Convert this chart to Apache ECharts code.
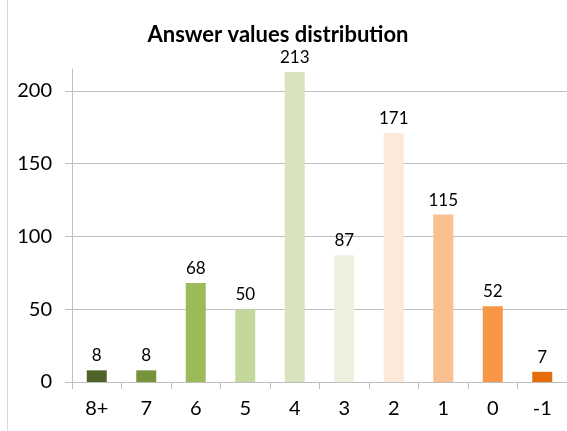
<!DOCTYPE html>
<html>
<head>
<meta charset="utf-8">
<script src="https://cdn.jsdelivr.net/npm/echarts@6/dist/echarts.min.js"></script>
<style>
  html, body { margin: 0; padding: 0; background: #fff; }
  #chart { width: 567px; height: 431px; position: relative; }
  .edge { position: absolute; left: 7px; top: 0; width: 1px; height: 431px; background: #d9d9d9; }
</style>
</head>
<body>
<div class="edge"></div>
<div id="chart"></div>
<script>
  // answer value buckets and counts
  const categories = ['8+', '7', '6', '5', '4', '3', '2', '1', '0', '-1'];
  const counts = [8, 8, 68, 50, 213, 87, 171, 115, 52, 7];
  const barColors = ['#4f6228', '#77933c', '#9bbb59', '#c3d69b', '#d7e4bd',
                     '#ebf1de', '#fde9d9', '#fac090', '#f79646', '#e46c0a'];

  const fontFamily = 'Lato, "Open Sans", sans-serif';

  const myChart = echarts.init(document.getElementById('chart'));

  const option = {
    animation: false,
    title: {
      text: 'Answer values distribution',
      left: 273,
      top: 19,
      textAlign: 'center',
      textStyle: {
        fontFamily: fontFamily,
        fontSize: 22,
        fontWeight: 'bold',
        color: '#000'
      }
    },
    grid: {
      left: 72,
      right: -5,
      top: 69,
      bottom: 49,
      containLabel: false
    },
    xAxis: {
      type: 'category',
      data: categories,
      axisLine: { lineStyle: { color: '#bfbfbf' } },
      axisTick: { show: true, length: 7, lineStyle: { color: '#bfbfbf' } },
      axisLabel: {
        color: '#000',
        fontFamily: fontFamily,
        fontSize: 20,
        margin: 17
      }
    },
    yAxis: {
      type: 'value',
      min: 0,
      max: 215,
      interval: 50,
      axisLine: { show: true, lineStyle: { color: '#bfbfbf' } },
      axisTick: { show: true, length: 7, lineStyle: { color: '#bfbfbf' } },
      axisLabel: {
        color: '#000',
        fontFamily: fontFamily,
        fontSize: 20,
        margin: 20,
        showMaxLabel: false
      },
      splitLine: { show: true, showMaxLine: false, lineStyle: { color: '#bfbfbf' } }
    },
    series: [
      {
        name: 'count',
        type: 'bar',
        barWidth: 20,
        data: counts.map((v, i) => ({ value: v, itemStyle: { color: barColors[i] } })),
        label: {
          show: true,
          position: 'top',
          distance: 6,
          color: '#000',
          fontFamily: fontFamily,
          fontSize: 17
        }
      }
    ]
  };

  myChart.setOption(option);
  window.addEventListener('resize', () => myChart.resize(), false);
</script>
</body>
</html>
